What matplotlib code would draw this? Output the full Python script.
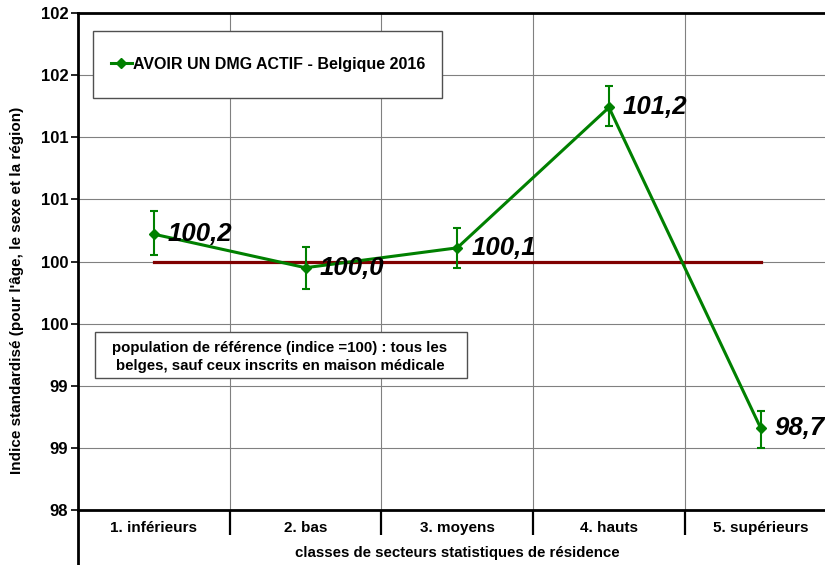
import matplotlib
matplotlib.use('Agg')
import matplotlib.pyplot as plt
import numpy as np
from matplotlib.lines import Line2D
from matplotlib.patches import Rectangle

# Données
classes = ['1. inférieurs', '2. bas', '3. moyens', '4. hauts', '5. supérieurs']
indice = [100.22, 99.95, 100.11, 101.24, 98.66]
ic_bas = [100.05, 99.78, 99.95, 101.09, 98.50]
ic_haut = [100.41, 100.12, 100.27, 101.41, 98.80]
reference = 100

yticks = [98, 98.5, 99, 99.5, 100, 100.5, 101, 101.5, 102]
ytick_labels = ['98', '99', '99', '100', '100', '101', '101', '102', '102']

titre_serie = 'AVOIR UN DMG ACTIF - Belgique 2016'
note = 'population de référence (indice =100) : tous les\nbelges, sauf ceux inscrits en maison médicale'
ylabel = "Indice standardisé (pour l'âge, le sexe et la région)"
xlabel = 'classes de secteurs statistiques de résidence'

plt.rcParams['font.family'] = 'Liberation Sans'

W, H = 825, 565
fig = plt.figure(figsize=(W / 100, H / 100), dpi=100)
ax = fig.add_axes([78 / W, 55 / H, 758.5 / W, 497 / H])

vert = '#008000'
x = np.arange(len(classes))
indice = np.array(indice)
err = [indice - np.array(ic_bas), np.array(ic_haut) - indice]

# ligne de référence (indice = 100)
ax.plot([x[0], x[-1]], [reference, reference], color='#800000', lw=2.3, zorder=3)

ax.errorbar(x, indice, yerr=err, color=vert, lw=2.2, marker='D', ms=5,
            elinewidth=1.5, capsize=3, capthick=1.5, zorder=4)

# étiquettes de valeurs
for xi, v in zip(x, indice):
    ax.annotate(f'{v:.1f}'.replace('.', ','), (xi, v), xytext=(10, 0),
                textcoords='offset points', ha='left', va='center',
                fontsize=18.5, fontweight='bold', fontstyle='italic', zorder=5)

ax.set_xlim(-0.5, len(classes) - 0.5)
ax.set_ylim(98, 102)

# axe x : traits aux limites des classes, libellés au centre
ax.set_xticks(x[:-1] + 0.5)
ax.set_xticklabels([])
ax.set_xticks(x, minor=True)
ax.set_xticklabels(classes, minor=True, fontweight='bold', fontsize=11)
ax.tick_params(axis='x', which='major', direction='out', length=18, width=1.6, color='black')
ax.tick_params(axis='x', which='minor', length=0, pad=8)

ax.set_yticks(yticks)
ax.set_yticklabels(ytick_labels, fontweight='bold', fontsize=12)
ax.tick_params(axis='y', direction='out', length=5, width=1.2, pad=2)

ax.grid(True, which='major', color='#808080', lw=0.8)
ax.set_axisbelow(True)

for s in ['top', 'bottom', 'left']:
    ax.spines[s].set_linewidth(2)
    ax.spines[s].set_color('black')
ax.spines['right'].set_visible(False)

# prolongement de l'axe vertical vers le bas
ax.plot([0, 0], [0, -55 / 497], transform=ax.transAxes, color='black', lw=2, clip_on=False)

# cadre de légende
ax.add_patch(Rectangle((93 / W, 1 - 98 / H), 349 / W, 67 / H, transform=fig.transFigure,
                       facecolor='white', edgecolor='#505050', lw=1, zorder=4.5))
h = Line2D([], [], color=vert, lw=2.2, marker='D', ms=5)
leg = ax.legend(handles=[h], labels=[titre_serie], loc='center left',
                bbox_to_anchor=(103 / W, 1 - 64 / H), bbox_transform=fig.transFigure,
                frameon=False, borderpad=0, handlelength=1.3, handletextpad=0.1,
                prop={'weight': 'bold', 'size': 11.5})
leg.set_zorder(6)

# encadré population de référence
ax.add_patch(Rectangle((95 / W, 1 - 378.3 / H), 371.7 / W, 46 / H, transform=fig.transFigure,
                       facecolor='white', edgecolor='#505050', lw=1, zorder=4.5))
fig.text(280 / W, 1 - 357 / H, note, ha='center', va='center', fontsize=10.8,
         fontweight='bold', linespacing=1.35, zorder=6)

fig.text(17.5 / W, 1 - 290 / H, ylabel, rotation=90, ha='center', va='center',
         fontsize=11, fontweight='bold')
fig.text(457 / W, 1 - 553 / H, xlabel, ha='center', va='center',
         fontsize=10.8, fontweight='bold')

fig.savefig('out.png', dpi=100)
